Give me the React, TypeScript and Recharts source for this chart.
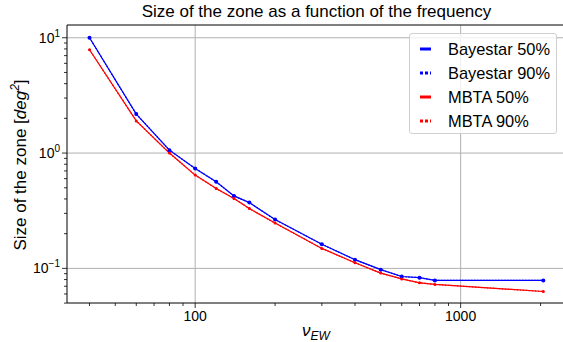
import React from 'react'
import {
  LineChart, Line, XAxis, YAxis, ReferenceLine,
} from 'recharts'

const FREQS = [40, 60, 80, 100, 120, 140, 160, 200, 300, 400, 500, 600, 700, 800, 2048]
const BAYESTAR_50 = [10.0, 2.18, 1.06, 0.736, 0.563, 0.425, 0.372, 0.265, 0.162, 0.119, 0.0975, 0.085, 0.083, 0.0787, 0.0787]
const BAYESTAR_90 = [10.0, 2.18, 1.06, 0.736, 0.563, 0.425, 0.372, 0.265, 0.162, 0.119, 0.0975, 0.085, 0.083, 0.0787, 0.0787]
const MBTA_50 = [7.87, 1.9, 1.0, 0.644, 0.493, 0.404, 0.33, 0.247, 0.149, 0.112, 0.091, 0.081, 0.075, 0.0726, 0.063]
const MBTA_90 = [7.87, 1.9, 1.0, 0.644, 0.493, 0.404, 0.33, 0.247, 0.149, 0.112, 0.091, 0.081, 0.075, 0.0726, 0.063]

const X_TICKS = [40, 50, 60, 70, 80, 90, 100, 200, 300, 400, 500, 600, 700, 800, 900, 1000, 2000]
const Y_TICKS = [0.05, 0.06, 0.07, 0.08, 0.09, 0.1, 0.2, 0.3, 0.4, 0.5, 0.6, 0.7, 0.8, 0.9, 1, 2, 3, 4, 5, 6, 7, 8, 9, 10]
const X_DOMAIN = [32.9, 2494]
const Y_DOMAIN = [0.0501, 12.9]

const FONT = 'Liberation Sans, Arial, sans-serif'

const chartData = FREQS.map((f, i) => ({
  f,
  b50: BAYESTAR_50[i],
  b90: BAYESTAR_90[i],
  m50: MBTA_50[i],
  m90: MBTA_90[i],
}))

const SERIES = [
  { key: 'b50', name: 'Bayestar 50%', color: '#0000ff', dash: undefined, r: 2 },
  { key: 'b90', name: 'Bayestar 90%', color: '#0000ff', dash: '1.5 1.5', r: 1.5 },
  { key: 'm50', name: 'MBTA 50%', color: '#ff0000', dash: undefined, r: 1.5 },
  { key: 'm90', name: 'MBTA 90%', color: '#ff0000', dash: '1.5 1.5', r: 1 },
]

function isMajor(v: number) {
  const l = Math.log10(v)
  return Math.abs(l - Math.round(l)) < 1e-6
}

function YTick(props: any) {
  const { x, y, payload } = props
  const v = payload.value
  const major = isMajor(v)
  const exp = Math.round(Math.log10(v))
  return (
    <g>
      <line x1={x - (major ? 5 : 3)} x2={x} y1={y} y2={y} stroke="#000" strokeWidth={0.8} />
      {major && (
        <text x={x - 7} y={y + 5} textAnchor="end" fontSize={14} fontFamily={FONT} fill="#000">
          10<tspan dy={-6} fontSize={10}>{exp < 0 ? '\u2212' + Math.abs(exp) : exp}</tspan>
        </text>
      )}
    </g>
  )
}

function XTick(props: any) {
  const { x, y, payload } = props
  const v = payload.value
  const major = isMajor(v)
  return (
    <g>
      <line x1={x} x2={x} y1={y} y2={y + (major ? 5 : 3)} stroke="#000" strokeWidth={0.8} />
      {major && (
        <text x={x} y={y + 18} textAnchor="middle" fontSize={14} fontFamily={FONT} fill="#000">
          {v}
        </text>
      )}
    </g>
  )
}

function LegendBox() {
  return (
    <div style={{
      position: 'absolute', left: 409, top: 33, width: 148, height: 101, boxSizing: 'border-box',
      border: '1px solid #d0d0d0', borderRadius: 3, background: 'rgba(255,255,255,0.8)',
      padding: '3px 0 0 9px', fontFamily: FONT, fontSize: 16.4, color: '#000', whiteSpace: 'nowrap',
    }}>
      {SERIES.map(s => (
        <div key={s.key} style={{ display: 'flex', alignItems: 'center', height: 24 }}>
          <svg width={14} height={10} style={{ marginRight: 15, flexShrink: 0 }}>
            <line x1={1} x2={12} y1={5} y2={5} stroke={s.color} strokeWidth={3}
              strokeDasharray={s.dash ? '3 2' : undefined} />
          </svg>
          <span>{s.name}</span>
        </div>
      ))}
    </div>
  )
}

export default function App() {
  return (
    <div style={{ position: 'absolute', left: 0, top: 0, width: 563, height: 342, overflow: 'hidden', background: '#fff' }}>
      <div style={{
        position: 'absolute', left: 67, width: 499, top: 2, textAlign: 'center',
        fontFamily: FONT, fontSize: 17, color: '#000',
      }}>
        Size of the zone as a function of the frequency
      </div>
      <LineChart width={566} height={342} data={chartData} margin={{ top: 25, right: 0, bottom: 0, left: 0 }}>
        <XAxis
          dataKey="f" type="number" scale="log" domain={X_DOMAIN} allowDataOverflow
          ticks={X_TICKS} interval={0} tick={<XTick />} tickSize={0} tickMargin={0} tickLine={false}
          height={39} axisLine={{ stroke: '#000', strokeWidth: 1 }}
          label={{
            content: () => (
              <text x={316} y={336} textAnchor="middle" fontFamily={FONT} fontSize={17} fill="#000">
                <tspan fontStyle="italic">{'\u03bd'}</tspan>
                <tspan fontStyle="italic" fontSize={12} dy={4}>EW</tspan>
              </text>
            ),
          }}
        />
        <YAxis
          type="number" scale="log" domain={Y_DOMAIN} allowDataOverflow
          ticks={Y_TICKS} interval={0} tick={<YTick />} tickSize={0} tickMargin={0} tickLine={false}
          width={67} axisLine={{ stroke: '#000', strokeWidth: 1 }}
          label={{
            content: () => (
              <text x={0} y={0} transform="translate(26,165) rotate(-90)" textAnchor="middle" fontFamily={FONT} fontSize={17} fill="#000">
                Size of the zone [<tspan fontStyle="italic">deg</tspan><tspan fontStyle="italic" fontSize={12} dy={-7}>2</tspan><tspan dy={7}>]</tspan>
              </text>
            ),
          }}
        />
        {[0.1, 1, 10].map(v => (
          <ReferenceLine key={'y' + v} y={v} stroke="#b0b0b0" strokeWidth={1} />
        ))}
        {[100, 1000].map(v => (
          <ReferenceLine key={'x' + v} x={v} stroke="#b0b0b0" strokeWidth={1} />
        ))}
        <ReferenceLine y={Y_DOMAIN[1]} stroke="#000" strokeWidth={1} />
        {SERIES.map(s => (
          <Line
            key={s.key} dataKey={s.key} name={s.name} type="linear" stroke={s.color}
            strokeWidth={1.2} strokeDasharray={s.dash}
            dot={{ r: s.r, fill: s.color, stroke: s.color, strokeWidth: 0 }}
            isAnimationActive={false}
          />
        ))}
      </LineChart>
      <LegendBox />
    </div>
  )
}
